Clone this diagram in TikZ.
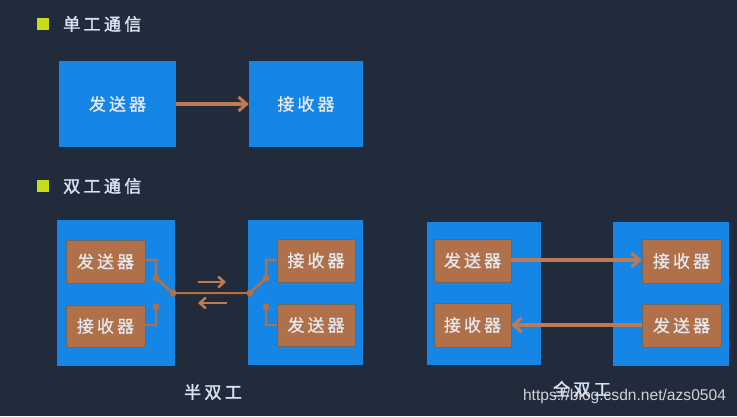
\documentclass[tikz,border=0pt]{standalone}
\usepackage{fontspec}
\usetikzlibrary{arrows.meta}
\newfontfamily\cjk[LetterSpace=18,FakeBold=1]{Noto Sans CJK SC}
\newfontfamily\cjkb[LetterSpace=20,FakeBold=2]{Noto Sans CJK SC}
\setsansfont{Liberation Sans}
\definecolor{bgc}{RGB}{34,43,60}
\definecolor{bluec}{RGB}{22,134,230}
\definecolor{brownc}{RGB}{176,113,74}
\definecolor{wirec}{RGB}{190,122,82}
\definecolor{bulletc}{RGB}{200,220,30}
\definecolor{txtc}{RGB}{228,232,238}
\definecolor{titlec}{RGB}{214,226,240}
\tikzset{
  bigbox/.style={draw=none, fill=bluec, inner sep=0pt},
  devbox/.style={draw=black!60, line width=0.6pt, fill=brownc, inner sep=0pt, text=txtc, font=\cjk\fontsize{17}{17}\selectfont},
  blabel/.style={text=txtc, font=\cjk\fontsize{17}{17}\selectfont},
  title/.style={text=titlec, font=\cjkb\fontsize{17}{17}\selectfont, anchor=west, inner sep=0pt},
  bullet/.style={fill=bulletc, draw=none, minimum size=12pt, inner sep=0pt},
  flow/.style={draw=wirec, line width=3.5pt, -{Straight Barb[length=8pt,width=14pt,line width=3pt]}},
  thinarr/.style={draw=wirec, line width=2.5pt, -{Straight Barb[length=6pt,width=11pt,line width=2.5pt]}},
  wire/.style={draw=brownc, line width=2.5pt},
  dot/.style={circle, fill=brownc, minimum size=7pt, inner sep=0pt},
  sublabel/.style={text=titlec, font=\cjkb\fontsize{17}{17}\selectfont},
}
\begin{document}
\begin{tikzpicture}[x=1pt,y=-1pt]
\fill[bgc] (0,0) rectangle (737,416);
\useasboundingbox (0,0) rectangle (737,416);

% titles
\node[bullet] (b1) at (43,24) {};
\node[title] (t1) at (63,24) {单工通信};
\node[bullet] (b2) at (43,186) {};
\node[title] (t2) at (63,186) {双工通信};

% simplex
\node[bigbox, minimum width=117pt, minimum height=86pt] (A) at (117.5,104) {};
\node[blabel] (Atxt) at (A.center) {发送器};
\node[bigbox, minimum width=114pt, minimum height=86pt] (B) at (306,104) {};
\node[blabel] (Btxt) at (B.center) {接收器};
\draw[flow] (A.east) -- (B.west);

% half duplex
\node[bigbox, minimum width=118pt, minimum height=146pt] (L) at (116,293) {};
\node[bigbox, minimum width=115pt, minimum height=145pt] (R) at (305.5,292.5) {};
\node[devbox, minimum width=79pt, minimum height=43pt] (L1) at (105.5,261.5) {发送器};
\node[devbox, minimum width=79pt, minimum height=42pt] (L2) at (105.5,326) {接收器};
\node[devbox, minimum width=78pt, minimum height=43pt] (R1) at (316,260.5) {接收器};
\node[devbox, minimum width=78pt, minimum height=42pt] (R2) at (316,325) {发送器};

\coordinate (lsw) at (156,278);
\coordinate (lj) at (173,293);
\coordinate (lrc) at (156,307);
\coordinate (rj) at (250,293);
\coordinate (rsw) at (266,278);
\coordinate (rrc) at (266,307);

\draw[wire] (L1.east |- 0,260) -- (156,260) -- (lsw) -- (lj);
\draw[wire] (L2.east |- 0,325) -- (156,325) -- (lrc);
\draw[wire] (R1.west |- 0,260) -- (266,260) -- (rsw) -- (rj);
\draw[wire] (R2.west |- 0,325) -- (266,325) -- (rrc);
\draw[draw=brownc, line width=3pt] (lj) -- (rj);
\draw[draw=black!80, line width=1pt] ([yshift=-1.8pt]lj) -- ([yshift=-1.8pt]rj);
\node[dot] (d1) at (lsw) {};
\node[dot] (d2) at (lj) {};
\node[dot] (d3) at (lrc) {};
\node[dot] (d4) at (rj) {};
\node[dot] (d5) at (rsw) {};
\node[dot] (d6) at (rrc) {};

\coordinate (ha1) at (198,282);
\coordinate (ha2) at (226,282);
\coordinate (hb1) at (227,303);
\coordinate (hb2) at (198,303);
\draw[thinarr] (ha1) -- (ha2);
\draw[thinarr] (hb1) -- (hb2);

\node[sublabel] (hd) at (213,392) {半双工};

% full duplex
\node[bigbox, minimum width=114pt, minimum height=143pt] (FL) at (484,293.5) {};
\node[bigbox, minimum width=116pt, minimum height=144pt] (FR) at (671,294) {};
\node[devbox, minimum width=77pt, minimum height=43pt] (FL1) at (472.5,260.5) {发送器};
\node[devbox, minimum width=77pt, minimum height=44pt] (FL2) at (472.5,325) {接收器};
\node[devbox, minimum width=79pt, minimum height=44pt] (FR1) at (681.5,261) {接收器};
\node[devbox, minimum width=79pt, minimum height=43pt] (FR2) at (681.5,325.5) {发送器};
\draw[flow] (FL1.east |- 0,260) -- (FR1.west |- 0,260);
\draw[flow] (FR2.west |- 0,325) -- (FL2.east |- 0,325);

\node[sublabel] (fd) at (582,389) {全双工};
\node[text=white!80!gray, opacity=0.9, font=\sffamily\fontsize{15.6}{15.6}\selectfont] (wm) at (624.5,396) {https://blog.csdn.net/azs0504};
\end{tikzpicture}
\end{document}
